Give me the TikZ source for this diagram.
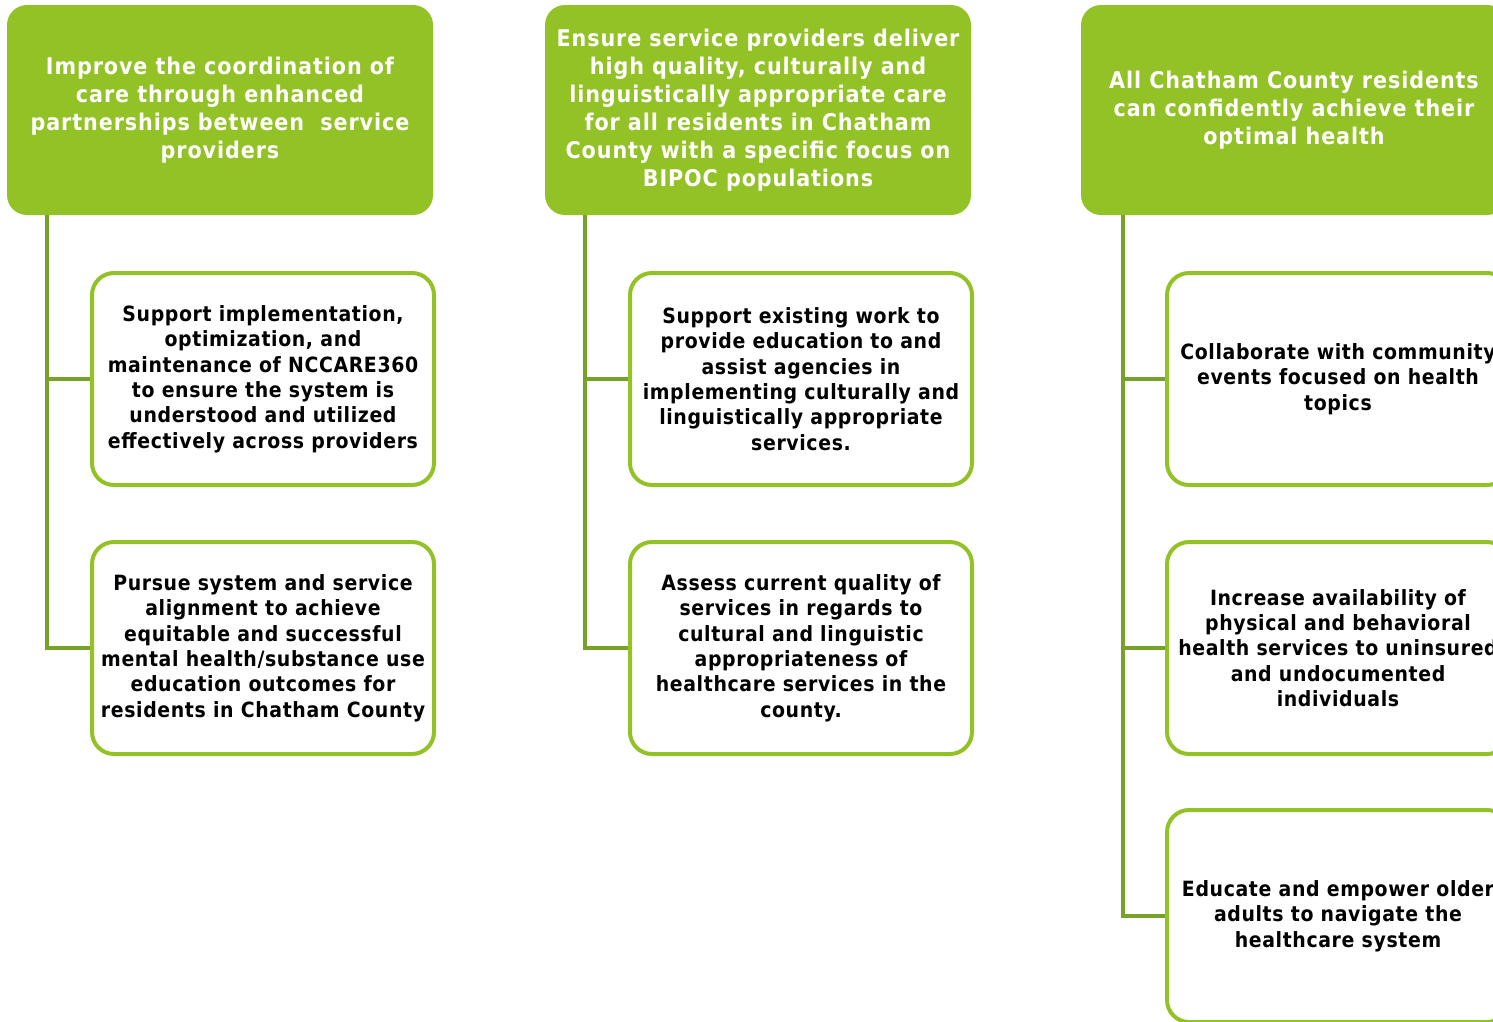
\documentclass[tikz,border=0pt]{standalone}
\usepackage{fontspec}
\setmainfont{DejaVu Sans Condensed}
\newfontfamily\hdrfont[LetterSpace=4]{DejaVu Sans Condensed}
\newfontfamily\kidfont[LetterSpace=3]{DejaVu Sans Condensed}
\definecolor{hdr}{HTML}{92C225}
\definecolor{conn}{HTML}{77A22A}
\tikzset{
  hdrbox/.style={fill=hdr, draw=none, rounded corners=20pt, minimum width=426pt, minimum height=210pt,
    text=white, align=center, inner sep=0pt, font=\hdrfont\bfseries\fontsize{23}{28}\selectfont},
  kid/.style={fill=white, draw=hdr, line width=4pt, rounded corners=22pt, minimum width=342pt, minimum height=212pt,
    text=black, align=center, inner sep=0pt, font=\kidfont\bfseries\fontsize{21}{25.4}\selectfont},
  link/.style={draw=conn, line width=4pt}
}
\begin{document}
\begin{tikzpicture}[x=1pt,y=-1pt]
\useasboundingbox (0,0) rectangle (1493,1021);
\clip (0,0) rectangle (1493,1021);
% headers
\node[hdrbox] (h1) at (220,110) {Improve the coordination of\\care through enhanced\\partnerships between \ service\\providers};
\node[hdrbox] (h2) at (758,110) {Ensure service providers deliver\\high quality, culturally and\\linguistically appropriate care\\for all residents in Chatham\\County with a specific focus on\\BIPOC populations};
\node[hdrbox] (h3) at (1294,110) {All Chatham County residents\\can confidently achieve their\\optimal health};
% children column 1
\node[kid] (a1) at (263,379) {Support implementation,\\optimization, and\\maintenance of NCCARE360\\to ensure the system is\\understood and utilized\\effectively across providers};
\node[kid] (a2) at (263,648) {Pursue system and service\\alignment to achieve\\equitable and successful\\mental health/substance use\\education outcomes for\\residents in Chatham County};
% children column 2
\node[kid] (b1) at (801,379) {Support existing work to\\provide education to and\\assist agencies in\\implementing culturally and\\linguistically appropriate\\services.};
\node[kid] (b2) at (801,648) {Assess current quality of\\services in regards to\\cultural and linguistic\\appropriateness of\\healthcare services in the\\county.};
% children column 3
\node[kid] (c1) at (1338,379) {Collaborate with community\\events focused on health\\topics};
\node[kid] (c2) at (1338,648) {Increase availability of\\physical and behavioral\\health services to uninsured\\and undocumented\\individuals};
\node[kid] (c3) at (1338,916) {Educate and empower older\\adults to navigate the\\healthcare system};
% connectors
\coordinate (t1) at ([xshift=40pt]h1.south west);
\coordinate (t2) at ([xshift=40pt]h2.south west);
\coordinate (t3) at ([xshift=42pt]h3.south west);
\draw[link] (t1) |- (a2.west);
\draw[link] (t1) |- (a1.west);
\draw[link] (t2) |- (b2.west);
\draw[link] (t2) |- (b1.west);
\draw[link] (t3) |- (c3.west);
\draw[link] (t3) |- (c2.west);
\draw[link] (t3) |- (c1.west);
\end{tikzpicture}
\end{document}
